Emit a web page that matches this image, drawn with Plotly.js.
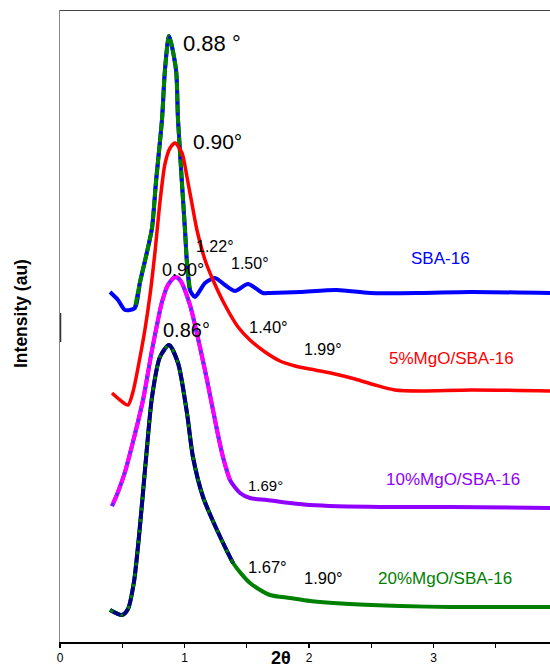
<!DOCTYPE html>
<html><head><meta charset="utf-8">
<script src="https://cdn.plot.ly/plotly-3.0.1.min.js"></script>
<style>html,body{margin:0;padding:0;background:#fff}#chart{width:550px;height:668px}</style>
</head><body><div id="chart"></div>
<script>
// 2θ (degrees) and offset intensity (au)
const sbaX = [0.402,0.466,0.522,0.602,0.643,0.699,0.739,0.771,0.819,0.843,0.876,0.932,0.948,1.004,1.02,1.044,1.084,1.165,1.245,1.325,1.406,1.51,1.63,1.687,1.928,2.225,2.49,2.892,3.293,3.936];
const sbaY = [350,342,332,334,360,390,414,460,522,572,606,572,522,412,379,352,345,359,364,357,351,358,349,349,350,352,349,349,350,349];

const mg5X = [0.418,0.482,0.546,0.586,0.643,0.683,0.723,0.763,0.803,0.843,0.884,0.924,0.98,1.02,1.084,1.1,1.165,1.229,1.325,1.43,1.526,1.647,1.767,1.888,2.048,2.209,2.369,2.53,2.69,2.9,3.3,3.936];
const mg5Y = [249,242,237,250,285,313,347,390,440,478,494,499,489,465,422,412,382,362,337,315,302,290,281,276,272,268,263,257,252,251,252,251];

const mg10X = [0.418,0.466,0.522,0.586,0.667,0.739,0.787,0.819,0.867,0.924,0.964,1.044,1.124,1.181,1.261,1.309,1.365,1.446,1.526,1.663,1.847,2.008,2.57,3.133,3.936];
const mg10Y = [136,150,170,200,242,292,322,340,357,365,362,337,295,262,212,185,162,149,144,142,139,137,135,135,134];

const mg20X = [0.402,0.498,0.546,0.594,0.634,0.667,0.699,0.739,0.803,0.876,0.948,1.02,1.068,1.149,1.261,1.39,1.526,1.687,1.847,2.008,2.329,2.731,3.133,3.936];
const mg20Y = [32,27,33,60,105,150,195,245,285,297,279,229,185,145,112,79,59,47,44,41,38,36,35,35];

const xTickVals = [0,0.5,1,1.5,2,2.5,3,3.5];
const xTickText = ['0','','1','','2','','3',''];
const seriesNames = ['SBA-16','5%MgO/SBA-16','10%MgO/SBA-16','20%MgO/SBA-16'];

const FONT = 'Liberation Sans, Arial, Helvetica, sans-serif';

function seg(xs, ys, lo, hi){
  const x=[], y=[];
  xs.forEach((v,i)=>{ if(v>=lo && v<=hi){ x.push(v); y.push(ys[i]); } });
  return {x, y};
}
function line(d, color, width, dash, name){
  return {x:d.x, y:d.y, type:'scatter', mode:'lines', name:name, hoverinfo:'skip',
    line:{color:color, width:width, dash:dash||'solid', shape:'spline', smoothing:0.7}};
}
const all = (xs,ys)=>({x:xs,y:ys});

const traces = [
  // SBA-16
  line(all(sbaX,sbaY), '#0000ff', 4, 'solid', seriesNames[0]),
  line(seg(sbaX,sbaY,0.55,1.05), '#008000', 4, 'solid', seriesNames[0]),
  line(seg(sbaX,sbaY,0.55,1.05), '#0000ff', 3, '3px,8px', seriesNames[0]),
  // 10%
  line(all(mg10X,mg10Y), '#8f00ff', 4, 'solid', seriesNames[2]),
  line(seg(mg10X,mg10Y,0,1.41), '#ff00ff', 4, 'solid', seriesNames[2]),
  line(seg(mg10X,mg10Y,0,1.41), '#5a2cff', 3, '3px,8px', seriesNames[2]),
  // 20%
  line(all(mg20X,mg20Y), '#008000', 4, 'solid', seriesNames[3]),
  line(seg(mg20X,mg20Y,0,1.40), '#000080', 4, 'solid', seriesNames[3]),
  line(seg(mg20X,mg20Y,0,1.40), '#008000', 3, '3px,8px', seriesNames[3]),
  // 5%
  line(all(mg5X,mg5Y), '#ff0000', 3.5, 'solid', seriesNames[1])
];

function px2x(px){ return (px-60)/124.5; }
function py2y(py){ return 642-py; }
function ann(text, px, py, size, color){
  return {text:text, x:px2x(px), y:py2y(py), xref:'x', yref:'y', xanchor:'left', yanchor:'middle',
    showarrow:false, font:{family:FONT, size:size, color:color||'#000'}};
}

const annotations = [
  ann('0.88 °', 181, 43, 22),
  ann('0.90°', 191, 141, 21),
  ann('1.22°', 194, 246, 16),
  ann('1.50°', 229, 263, 16),
  ann('0.90°', 160, 270, 18),
  ann('0.86°', 161, 330, 20),
  ann('1.40°', 247, 327, 16.5),
  ann('1.99°', 302, 349, 16),
  ann('1.69°', 246, 485, 15),
  ann('1.67°', 246, 567, 16.5),
  ann('1.90°', 302, 578, 16.5),
  ann(seriesNames[0], 409, 258, 17, '#0000ff'),
  ann(seriesNames[1], 387, 358, 17, '#ff0000'),
  ann(seriesNames[2], 384, 479, 17, '#8f00ff'),
  ann(seriesNames[3], 376, 578, 17, '#008000'),
  {text:'<b>2θ</b>', x:(281-60)/490, y:(642-658)/632, xref:'paper', yref:'paper', xanchor:'center', yanchor:'middle',
    showarrow:false, font:{family:FONT, size:18, color:'#000'}},
  {text:'<b>Intensity (au)</b>', x:(21-60)/490, y:(642-314)/632, xref:'paper', yref:'paper', xanchor:'center', yanchor:'middle',
    textangle:-90, showarrow:false, font:{family:FONT, size:17.5, color:'#000'}}
];

const layout = {
  width:550, height:668,
  margin:{l:60, r:0, t:10, b:26, pad:0},
  paper_bgcolor:'#fff', plot_bgcolor:'#fff',
  showlegend:false, hovermode:false,
  font:{family:FONT, size:12, color:'#000'},
  xaxis:{range:[0,3.936], showline:true, linecolor:'#000', linewidth:1.5, ticks:'outside', ticklen:4, tickwidth:1.2,
    tickcolor:'#000', tickvals:xTickVals, ticktext:xTickText, showgrid:false, zeroline:false,
    tickfont:{family:FONT, size:12, color:'#000'}},
  yaxis:{range:[0,632], showline:true, linecolor:'#888', linewidth:1, showticklabels:false, ticks:'',
    showgrid:false, zeroline:false},
  shapes:[
    {type:'line', xref:'x', yref:'y', x0:0, x1:3.936, y0:632, y1:632, line:{color:'#444', width:2}},
    {type:'line', xref:'x', yref:'y', x0:0, x1:0, y0:300, y1:329, line:{color:'#333', width:2.5}}
  ],
  annotations:annotations
};

Plotly.newPlot('chart', traces, layout, {displayModeBar:false, staticPlot:true});
</script></body></html>
